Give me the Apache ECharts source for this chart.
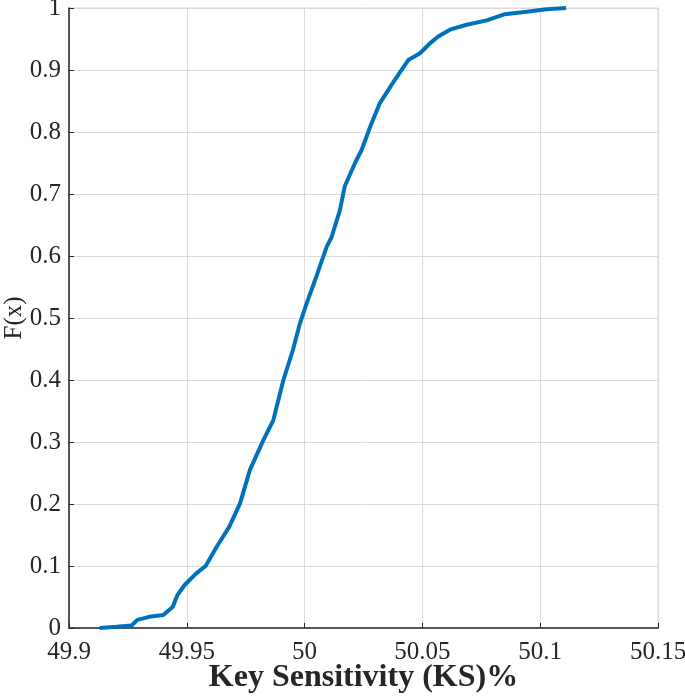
<!DOCTYPE html>
<html>
<head>
<meta charset="utf-8">
<script src="https://cdn.jsdelivr.net/npm/echarts@6/dist/echarts.min.js"></script>
<style>
  html, body { margin: 0; padding: 0; background: #fff; }
  #chart { width: 685px; height: 697px; }
</style>
</head>
<body>
<div id="chart"></div>
<script>
var ksValues = [49.913, 49.920, 49.9266, 49.929, 49.934, 49.940, 49.944, 49.946, 49.949, 49.954,
  49.958, 49.9627, 49.968, 49.9726, 49.9768, 49.9825, 49.9867, 49.991, 49.995, 49.998,
  50.0009, 50.005, 50.0094, 50.0115, 50.015, 50.017, 50.0214, 50.0242, 50.028, 50.032,
  50.0383, 50.044, 50.049, 50.0532, 50.0567, 50.0617, 50.0688, 50.0773, 50.085, 50.0943,
  50.1027, 50.111];
var cdfValues = [0, 0.002, 0.004, 0.013, 0.018, 0.021, 0.034, 0.053, 0.069, 0.088,
  0.10, 0.131, 0.163, 0.201, 0.255, 0.303, 0.335, 0.40, 0.448, 0.491,
  0.524, 0.567, 0.615, 0.631, 0.674, 0.712, 0.750, 0.771, 0.81, 0.847,
  0.884, 0.916, 0.927, 0.943, 0.954, 0.965, 0.973, 0.980, 0.990, 0.994,
  0.998, 1.0];
var xTicks = [49.9, 49.95, 50, 50.05, 50.1, 50.15];
var yTicks = [0, 0.1, 0.2, 0.3, 0.4, 0.5, 0.6, 0.7, 0.8, 0.9, 1];

var points = ksValues.map(function (x, i) { return [x, cdfValues[i]]; });
var serif = '"Liberation Serif", "DejaVu Serif", serif';

var myChart = echarts.init(document.getElementById('chart'));
myChart.setOption({
  animation: false,
  backgroundColor: '#fff',
  grid: {
    left: 69, right: 27, top: 8, bottom: 69,
    outerBoundsMode: 'none', containLabel: false,
    show: true, borderColor: '#d9d9d9', borderWidth: 1
  },
  xAxis: {
    type: 'value',
    min: xTicks[0],
    max: xTicks[xTicks.length - 1],
    interval: 0.05,
    name: 'Key Sensitivity (KS)%',
    nameLocation: 'middle',
    nameGap: 34,
    nameMoveOverlap: false,
    nameTextStyle: { fontFamily: serif, fontSize: 32, fontWeight: 'bold', color: '#262626' },
    axisLine: { onZero: false, lineStyle: { color: '#262626', width: 1.5 } },
    axisTick: { inside: true, length: 5, lineStyle: { color: '#262626' } },
    axisLabel: {
      fontFamily: serif, fontSize: 25, color: '#262626', margin: 12,
      formatter: function (v) { return String(+v.toFixed(2)); }
    },
    splitLine: { show: true, lineStyle: { color: '#dcdcdc', width: 1 } }
  },
  yAxis: {
    type: 'value',
    min: 0,
    max: 1,
    interval: 0.1,
    name: 'F(x)',
    nameLocation: 'middle',
    nameGap: 42,
    nameMoveOverlap: false,
    nameTextStyle: { fontFamily: serif, fontSize: 25, color: '#262626' },
    axisLine: { show: true, onZero: false, lineStyle: { color: '#262626', width: 1.5 } },
    axisTick: { show: true, inside: true, length: 5, lineStyle: { color: '#262626' } },
    axisLabel: {
      fontFamily: serif, fontSize: 25, color: '#262626', margin: 8,
      formatter: function (v) { return String(+v.toFixed(1)); }
    },
    splitLine: { show: true, lineStyle: { color: '#dcdcdc', width: 1 } }
  },
  series: [{
    type: 'line',
    data: points,
    showSymbol: false,
    smooth: false,
    lineStyle: { color: '#0072BD', width: 4 }
  }]
});
window.addEventListener('resize', function () { myChart.resize(); });
</script>
</body>
</html>
